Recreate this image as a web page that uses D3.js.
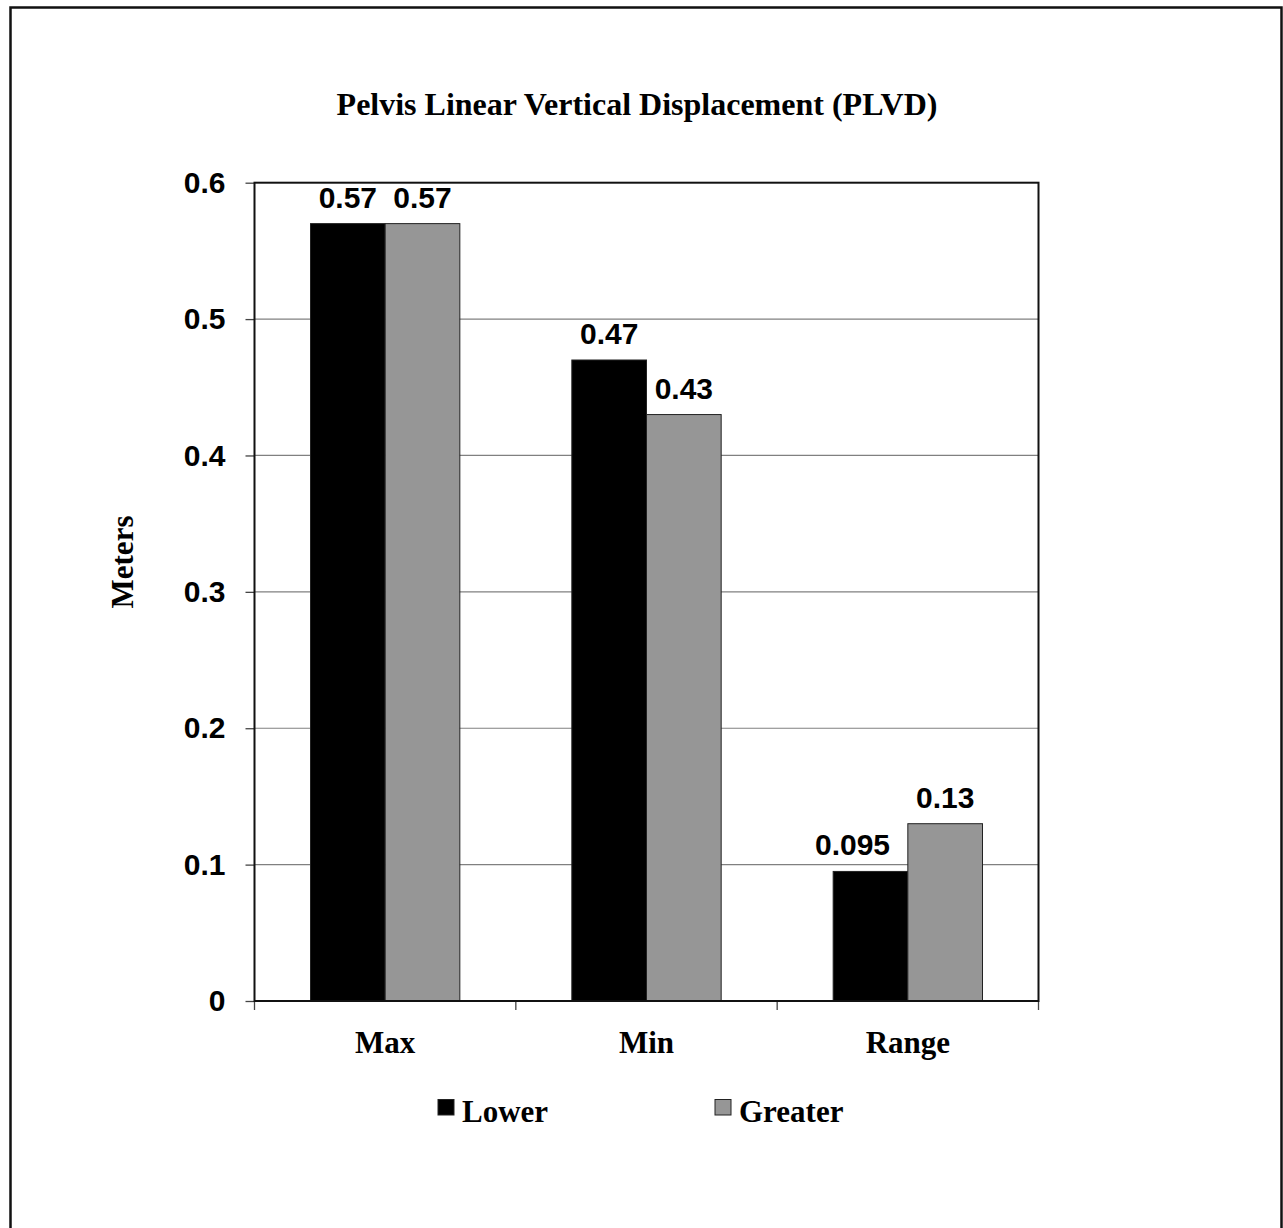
<!DOCTYPE html>
<html>
<head>
<meta charset="utf-8">
<script src="https://cdn.jsdelivr.net/npm/d3@7"></script>
<style>
  html, body { margin: 0; padding: 0; background: #fff; }
  svg { display: block; }
</style>
</head>
<body>
<svg id="chart" width="1283" height="1228"></svg>
<script>
// Chart data
const categories = ["Max", "Min", "Range"];
const seriesNames = ["Lower", "Greater"];
const lowerValues = [0.57, 0.47, 0.095];
const greaterValues = [0.57, 0.43, 0.13];
const yTicks = [0, 0.1, 0.2, 0.3, 0.4, 0.5, 0.6];
const seriesColors = ["#000000", "#969696"];

const title = "Pelvis Linear Vertical Displacement (PLVD)";
const yTitle = "Meters";

const serif = "'Liberation Serif', 'Times New Roman', serif";
const sans = "'Liberation Sans', Arial, sans-serif";

const svg = d3.select("#chart");

// outer frame
svg.append("rect")
  .attr("x", 10.5).attr("y", 7.5)
  .attr("width", 1271).attr("height", 1300)
  .attr("fill", "none").attr("stroke", "#111").attr("stroke-width", 2.5);

// plot area
const plot = { left: 254.5, right: 1038.5, top: 182.7, bottom: 1001 };

const x = d3.scaleBand().domain(categories)
  .range([plot.left, plot.right]).paddingInner(0).paddingOuter(0);
const gapRatio = 1.5; // gap between groups, as a fraction of one bar
const barW = x.bandwidth() / (seriesNames.length + gapRatio);
const xs = d3.scaleBand().domain(seriesNames)
  .range([barW * gapRatio / 2, barW * gapRatio / 2 + barW * seriesNames.length]);
const y = d3.scaleLinear().domain([0, 0.6]).range([plot.bottom, plot.top]);

// gridlines
svg.append("g").selectAll("line")
  .data(yTicks.filter(t => t > 0 && t < 0.6))
  .join("line")
  .attr("x1", plot.left).attr("x2", plot.right)
  .attr("y1", d => y(d)).attr("y2", d => y(d))
  .attr("stroke", "#808080").attr("stroke-width", 1.2);

// y axis
const yAxis = d3.axisLeft(y).tickValues(yTicks).tickSize(9).tickPadding(20)
  .tickFormat(d => d === 0 ? "0" : d3.format(".1f")(d));
const gy = svg.append("g").attr("transform", `translate(${plot.left},0)`).call(yAxis);
gy.select(".domain").remove();
gy.selectAll(".tick line").attr("stroke", "#444").attr("stroke-width", 1.3);
gy.selectAll(".tick text")
  .attr("font-family", sans).attr("font-weight", "bold").attr("font-size", 30)
  .attr("fill", "#000");

// x axis (category separators)
const sepPositions = categories.map(c => x(c)).concat([plot.right]);
svg.append("g").selectAll("line").data(sepPositions).join("line")
  .attr("x1", d => d).attr("x2", d => d)
  .attr("y1", plot.bottom).attr("y2", plot.bottom + 9)
  .attr("stroke", "#444").attr("stroke-width", 1.3);

svg.append("g").selectAll("text").data(categories).join("text")
  .attr("x", d => x(d) + x.bandwidth() / 2)
  .attr("y", 1053)
  .attr("text-anchor", "middle")
  .attr("font-family", serif).attr("font-weight", "bold").attr("font-size", 31)
  .text(d => d);

// bars
const rows = categories.map((c, i) => ({
  category: c,
  values: [
    { series: "Lower", value: lowerValues[i], color: seriesColors[0] },
    { series: "Greater", value: greaterValues[i], color: seriesColors[1] }
  ]
}));

const groups = svg.append("g").selectAll("g").data(rows).join("g")
  .attr("transform", d => `translate(${x(d.category)},0)`);

groups.selectAll("rect").data(d => d.values).join("rect")
  .attr("x", d => xs(d.series))
  .attr("width", barW)
  .attr("y", d => y(d.value))
  .attr("height", d => plot.bottom - y(d.value))
  .attr("fill", d => d.color)
  .attr("stroke", "#222").attr("stroke-width", 1);

// value labels; the narrow Range/Lower label is nudged to clear its neighbour
const labelNudge = { "Range|Lower": -18 };
groups.each(function (g) {
  d3.select(this).selectAll("text").data(g.values).join("text")
    .attr("x", d => xs(d.series) + barW / 2 + (labelNudge[g.category + "|" + d.series] || 0))
    .attr("y", d => y(d.value) - 16)
    .attr("text-anchor", "middle")
    .attr("font-family", sans).attr("font-weight", "bold").attr("font-size", 30)
    .text(d => String(d.value));
});

// plot frame and baseline
svg.append("rect")
  .attr("x", plot.left).attr("y", plot.top)
  .attr("width", plot.right - plot.left).attr("height", plot.bottom - plot.top)
  .attr("fill", "none").attr("stroke", "#111").attr("stroke-width", 2);

// title
svg.append("text")
  .attr("x", 637).attr("y", 115)
  .attr("text-anchor", "middle")
  .attr("font-family", serif).attr("font-weight", "bold").attr("font-size", 32)
  .text(title);

// y axis title
svg.append("text")
  .attr("transform", "translate(133,562) rotate(-90)")
  .attr("text-anchor", "middle")
  .attr("font-family", serif).attr("font-weight", "bold").attr("font-size", 31)
  .text(yTitle);

// legend
const legendX = [438, 715];
const legend = svg.append("g").selectAll("g").data(seriesNames).join("g")
  .attr("transform", (d, i) => `translate(${legendX[i]},1099.5)`);
legend.append("rect")
  .attr("width", 16).attr("height", 15.5)
  .attr("fill", (d, i) => seriesColors[i])
  .attr("stroke", "#222").attr("stroke-width", 1);
legend.append("text")
  .attr("x", 24).attr("y", 22.5)
  .attr("font-family", serif).attr("font-weight", "bold").attr("font-size", 31)
  .text(d => d);
</script>
</body>
</html>
